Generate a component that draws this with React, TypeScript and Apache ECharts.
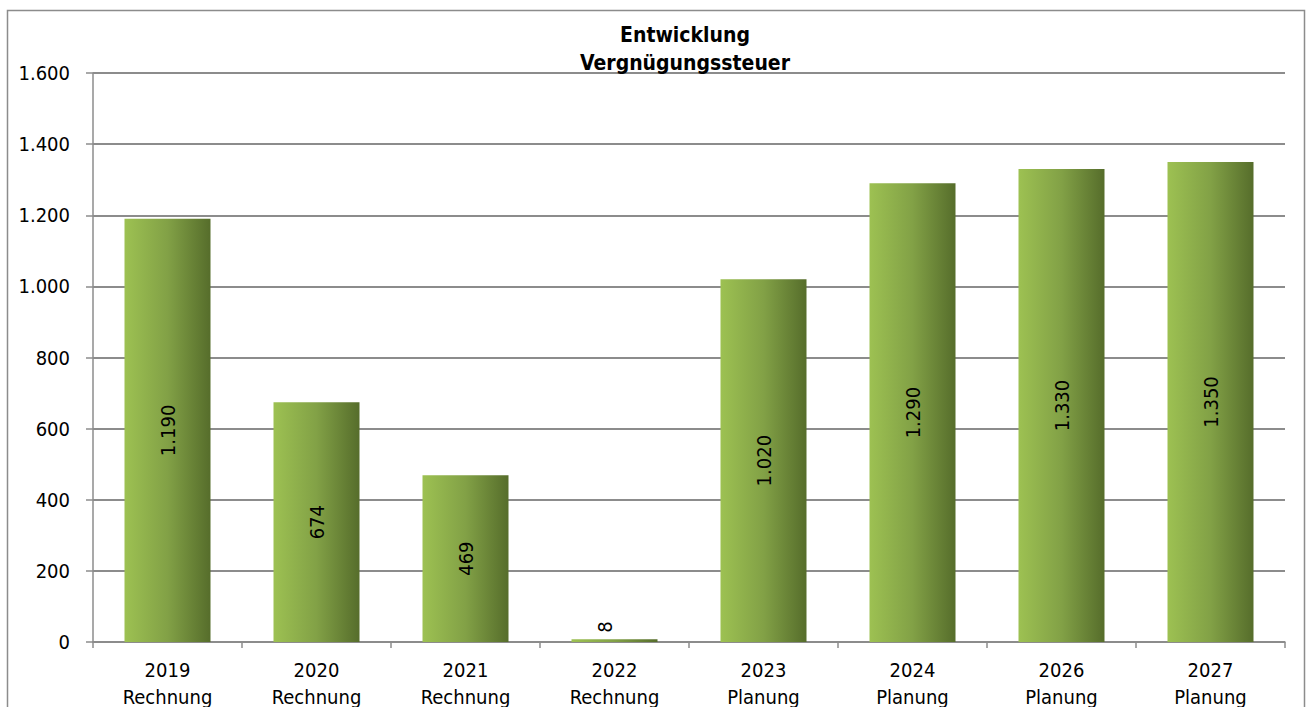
import React, { useEffect, useRef } from "react";
import * as echarts from "echarts";

const years = ["2019", "2020", "2021", "2022", "2023", "2024", "2026", "2027"];
const kinds = ["Rechnung", "Rechnung", "Rechnung", "Rechnung", "Planung", "Planung", "Planung", "Planung"];
const values = [1190, 674, 469, 8, 1020, 1290, 1330, 1350];
const titleLines = ["Entwicklung", "Vergnügungssteuer"];

const FONT = "'Liberation Sans Narrow', 'Arial Narrow', 'DejaVu Sans Condensed', sans-serif";

const fmt = (v: number) => {
  const s = Math.round(v).toString();
  return s.replace(/\B(?=(\d{3})+(?!\d))/g, ".");
};

export default function App() {
  const ref = useRef<HTMLDivElement>(null);
  useEffect(() => {
    if (!ref.current) return;
    const chart = echarts.init(ref.current, undefined, { renderer: "svg" });
    const gradient = new echarts.graphic.LinearGradient(0, 0, 1, 0, [
      { offset: 0, color: "#9dc152" },
      { offset: 0.5, color: "#82a146" },
      { offset: 1, color: "#566d2b" },
    ]);
    chart.setOption({
      animation: false,
      backgroundColor: "#ffffff",
      textStyle: { fontFamily: FONT },
      graphic: [
        {
          type: "rect",
          shape: { x: 7.5, y: 10.5, width: 1297, height: 720 },
          style: { fill: "none", stroke: "#8c8c8c", lineWidth: 1.5 },
          silent: true,
          z: -1,
        },
      ],
      title: {
        text: titleLines.join("\n"),
        left: 680,
        textAlign: "center",
        top: 16,
        textStyle: {
          fontFamily: FONT,
          fontSize: 21,
          fontWeight: "bold",
          color: "#000",
          lineHeight: 28,
        },
      },
      grid: {
        left: 93,
        right: 23,
        top: 73,
        bottom: 65,
        containLabel: false,
        outerBoundsMode: "none",
      },
      xAxis: {
        type: "category",
        data: years.map((y, i) => y + "\n" + kinds[i]),
        axisLine: { lineStyle: { color: "#8c8c8c", width: 1.5 } },
        axisTick: { show: true, length: 6, alignWithLabel: false, lineStyle: { color: "#8c8c8c", width: 1.5 } },
        axisLabel: {
          color: "#000",
          fontFamily: FONT,
          fontSize: 20,
          lineHeight: 27,
          margin: 14,
          interval: 0,
        },
      },
      yAxis: {
        type: "value",
        min: 0,
        max: 1600,
        interval: 200,
        axisLine: { show: true, lineStyle: { color: "#8c8c8c", width: 1.5 } },
        axisTick: { show: true, length: 7, lineStyle: { color: "#8c8c8c", width: 1.5 } },
        splitLine: { lineStyle: { color: "#8c8c8c", width: 2 } },
        axisLabel: {
          color: "#000",
          fontFamily: FONT,
          fontSize: 20,
          margin: 23,
          formatter: (v: number) => fmt(v),
        },
      },
      series: [
        {
          type: "bar",
          barWidth: 86,
          data: values.map((v) =>
            v < 100
              ? {
                  value: v,
                  label: { position: "top", distance: 12 },
                }
              : { value: v }
          ),
          itemStyle: { color: gradient },
          label: {
            show: true,
            position: "inside",
            rotate: 90,
            color: "#000",
            fontFamily: FONT,
            fontSize: 20,
            formatter: (p: any) => fmt(p.value),
          },
        },
      ],
    });
    return () => chart.dispose();
  }, []);
  return (
    <div
      ref={ref}
      style={{ position: "fixed", left: 0, top: 0, width: 1308, height: 707 }}
    />
  );
}
